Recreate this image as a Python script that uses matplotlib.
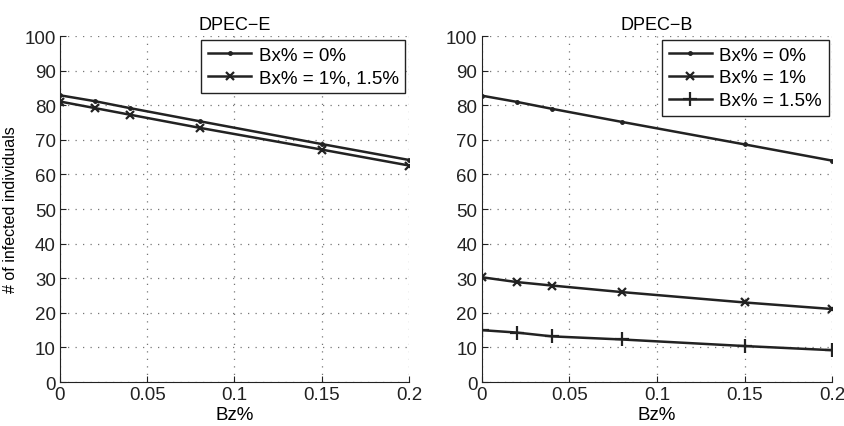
import numpy as np
import matplotlib.pyplot as plt

plt.rcParams['font.family'] = ['Liberation Sans', 'DejaVu Sans']
plt.rcParams['font.size'] = 13.5

# Bz% values (x axis)
bz = [0, 0.02, 0.04, 0.08, 0.15, 0.2]

# DPEC-E
e_bx0 = [82.9, 81.2, 79.2, 75.4, 68.8, 64.2]
e_bx1 = [81.1, 79.2, 77.3, 73.5, 67.2, 62.6]

# DPEC-B
b_bx0 = [82.8, 81.0, 79.0, 75.2, 68.7, 64.0]
b_bx1 = [30.3, 28.9, 27.9, 26.0, 23.0, 21.1]
b_bx15 = [15.0, 14.3, 13.2, 12.3, 10.4, 9.2]

fig = plt.figure(figsize=(8.45, 4.27), dpi=100)
ax1 = fig.add_axes([0.071, 0.103, 0.413, 0.810])
ax2 = fig.add_axes([0.570, 0.103, 0.415, 0.810])

lc = '#222222'
ax1.plot(bz, e_bx0, color=lc, lw=1.8, marker='.', ms=5, label='Bx% = 0%')
ax1.plot(bz, e_bx1, color=lc, lw=1.8, marker='x', ms=6, mew=1.6, label='Bx% = 1%, 1.5%')

ax2.plot(bz, b_bx0, color=lc, lw=1.8, marker='.', ms=5, label='Bx% = 0%')
ax2.plot(bz, b_bx1, color=lc, lw=1.8, marker='x', ms=6, mew=1.6, label='Bx% = 1%')
ax2.plot(bz, b_bx15, color=lc, lw=1.8, marker='+', ms=10, mew=1.6, label='Bx% = 1.5%')

for ax, title in [(ax1, 'DPEC\u2212E'), (ax2, 'DPEC\u2212B')]:
    ax.set_xlim(0, 0.2)
    ax.set_ylim(0, 100)
    ax.set_xticks([0, 0.05, 0.1, 0.15, 0.2])
    ax.set_xticklabels(['0', '0.05', '0.1', '0.15', '0.2'])
    ax.set_yticks(np.arange(0, 101, 10))
    ax.grid(True, linestyle=(0, (1, 5)), color='#777777', lw=0.9)
    ax.spines['top'].set_visible(False)
    ax.spines['right'].set_visible(False)
    ax.spines['left'].set_color(lc)
    ax.spines['bottom'].set_color(lc)
    ax.tick_params(direction='in', length=4, colors='#222222', pad=3)
    ax.set_title(title, fontsize=13, pad=5)
    ax.set_xlabel('Bz%', labelpad=2)
    leg = ax.legend(loc='upper right', fancybox=False, edgecolor='#222222',
                    framealpha=1, handlelength=2.3, handletextpad=0.4,
                    borderaxespad=0.2, labelspacing=0.3, borderpad=0.35)
    leg.get_frame().set_linewidth(1.0)

ax1.set_ylabel('# of infected individuals', fontsize=11.5, labelpad=5)

fig.savefig('out.png', dpi=100)
